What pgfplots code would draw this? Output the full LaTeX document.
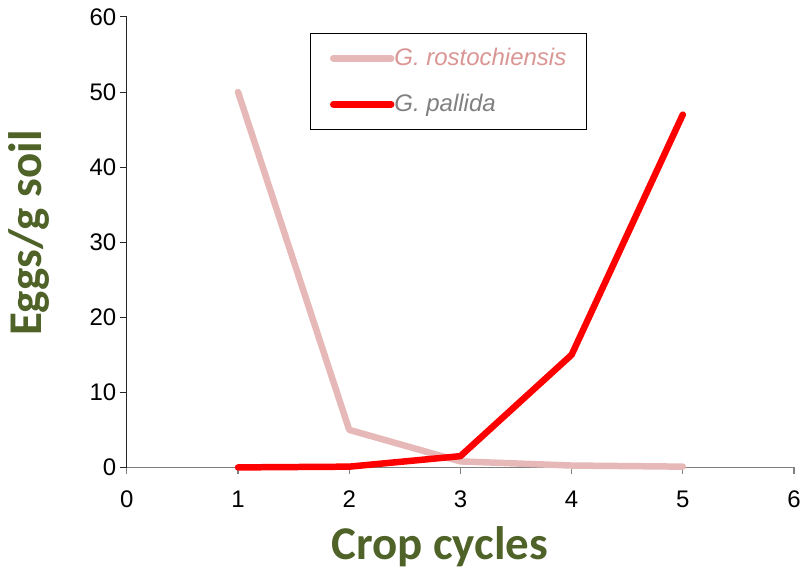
\documentclass[border=0pt]{standalone}
\usepackage{pgfplots}
\pgfplotsset{compat=1.18}
\usepackage{fontspec}
\setmainfont{Liberation Sans}
\newfontfamily\carlito{Carlito}
\definecolor{rosto}{HTML}{E6B9B8}
\definecolor{rostotext}{HTML}{DA9694}
\definecolor{labgreen}{HTML}{4F6228}
\begin{document}
\begin{tikzpicture}
\begin{axis}[
  scale only axis,
  width=668pt, height=451pt,
  xmin=0, xmax=6, ymin=0, ymax=60,
  xtick={0,1,2,3,4,5,6},
  ytick={0,10,20,30,40,50,60},
  axis x line*=bottom,
  axis y line*=left,
  x axis line style={gray, line width=1.2pt, -},
  y axis line style={black!85, line width=1pt, -},
  xtick style={gray, line width=1.2pt},
  ytick style={black!85, line width=1pt},
  tick align=outside,
  major tick length=7pt,
  /pgf/number format/assume math mode=true,
  tick label style={font=\fontsize{24}{28}\selectfont, black},
  xticklabel style={yshift=-13pt},
  xlabel={Crop cycles},
  ylabel={Eggs/g soil},
  xlabel style={font=\carlito\bfseries\fontsize{47}{50}\selectfont, text=labgreen,
    at={(axis description cs:0.469,-0.204)}, anchor=base},
  ylabel style={font=\carlito\bfseries\fontsize{47}{50}\selectfont, text=labgreen,
    at={(axis description cs:-0.1467,0.52)}, anchor=center, rotate=0},
  legend style={at={(axis description cs:0.274,0.9645)}, anchor=north west,
    draw=black, line width=0.8pt, inner xsep=20pt, inner ysep=13pt,
    row sep=22pt,
    nodes={font=\itshape\fontsize{24}{28}\selectfont, inner sep=0pt, text height=19pt, text depth=5pt, anchor=west}},
  legend cell align=left,
  legend image code/.code={\draw[#1] (0pt,0pt) -- (58pt,0pt);},
  clip=false,
]
\addplot[rosto, line width=6.5pt, line cap=round, line join=round]
  coordinates {(1,50) (2,5.0) (3,0.8) (4,0.25) (5,0.1)};
\addlegendentry{\textcolor{rostotext}{G. rostochiensis}}
\addplot[red, line width=6.5pt, line cap=round, line join=round]
  coordinates {(1,0) (2,0.1) (3,1.5) (4,15) (5,47)};
\addlegendentry{\textcolor{gray}{G. pallida}}
\coordinate (bl) at (rel axis cs:0,0);
\coordinate (tr) at (rel axis cs:1,1);
\end{axis}
\path[use as bounding box] ([shift={(-127pt,-103pt)}]bl) rectangle ([shift={(9pt,17pt)}]tr);
\end{tikzpicture}
\end{document}
